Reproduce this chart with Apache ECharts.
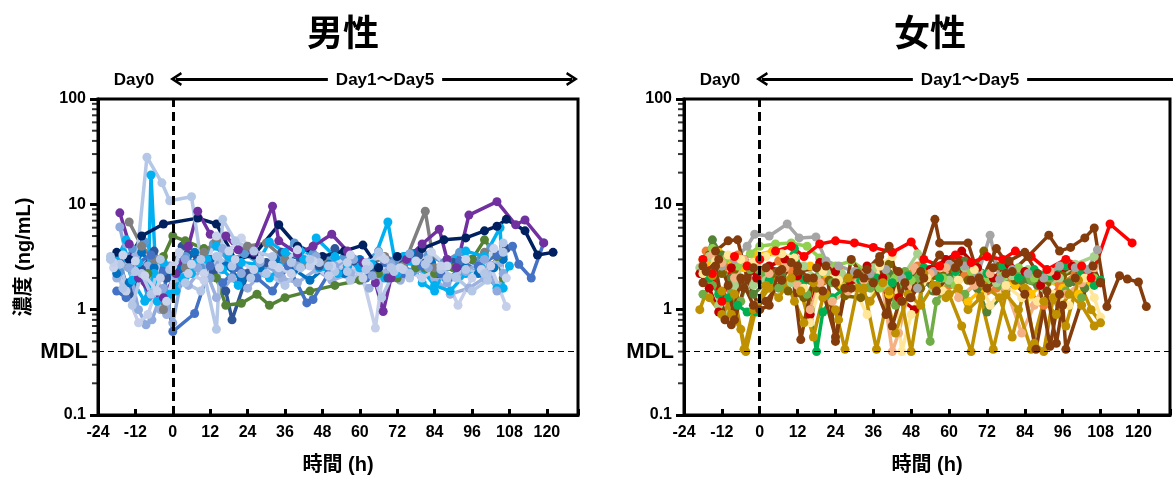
<!DOCTYPE html>
<html>
<head>
<meta charset="utf-8">
<script src="https://cdn.jsdelivr.net/npm/echarts@6/dist/echarts.min.js"></script>
<style>
  html, body { margin: 0; padding: 0; background: #fff; }
  #chart { width: 1173px; height: 480px; }
</style>
</head>
<body>
<div id="chart"></div>
<script>
// 男性 : [時間(h), 濃度(ng/mL)]
const m01 = [[-17,8.3],[-14,4.2],[-11,2.0],[-7,1.4],[-3,1.3],[1,2.2],[5,4.0],[8,8.6],[12,5.2],[17,5.0],[21,3.7],[26,3.5],[32,9.6],[34,4.5],[40,3.4],[45,4.0],[51,5.2],[56,3.6],[61,2.8],[65,1.8],[67.5,0.96],[70,2.0],[75,3.0],[80,4.2],[85.5,5.8],[88,3.0],[91,2.5],[95,7.9],[104,10.6],[110,6.4],[113,7.1],[119,4.3]];
const m02 = [[-18,3.5],[-14,3.0],[-10,5.0],[-3,6.5],[8,7.4],[14,6.5],[20,3.0],[26,3.3],[34,6.4],[40,4.0],[48,3.2],[55,3.6],[61,4.1],[66,2.5],[72,3.2],[80,3.8],[87,4.6],[94,4.8],[100,5.6],[104,6.2],[107,7.2],[113,5.6],[117,3.3],[122,3.5]];
const m03 = [[-14,6.8],[-10,4.0],[-6,3.0],[-3,1.0],[4,2.5],[10,3.5],[14,4.5],[18,3.5],[24,4.0],[30,4.3],[36,3.0],[42,2.7],[48,3.0],[56,2.6],[62,2.5],[68,3.2],[74,2.6],[81,8.6],[84,2.5],[88,3.0],[94,2.4],[100,3.5]];
const m04 = [[-14,2.5],[-8,2.2],[-3,3.2],[0,5.0],[4,4.5],[10,3.8],[14,2.0],[17,1.1],[22,1.15],[27,1.4],[31,1.1],[36,1.3],[44,1.5],[52,1.7],[60,1.9],[66,2.2],[72,2.0],[78,2.5],[84,2.2],[90,2.5],[96,3.0],[100,4.6],[104,3.2],[106,2.0]];
const m05 = [[-18,3.0],[-15,4.6],[-11,2.8],[-8,1.3],[-7,19],[-5,1.2],[-1,1.4],[3,2.0],[8,2.8],[14,4.0],[18,3.2],[22,2.8],[27,2.7],[31,4.4],[36,3.5],[42,3.0],[46,4.8],[52,3.2],[56,2.6],[60,2.5],[64,2.7],[69,6.8],[72,2.2],[76,2.9],[80,1.8],[84,1.5],[88,2.8],[94,3.6],[100,3.2],[105,6.0],[106,1.6]];
const m06 = [[-16,3.5],[-13,1.9],[-9,1.2],[-6,2.2],[-3,2.8],[1,1.5],[6,2.2],[11,3.0],[16,2.4],[21,1.7],[26,2.3],[31,2.0],[36,2.8],[41,3.6],[47,2.5],[53,2.2],[58,3.0],[63,2.4],[68,2.0],[74,3.2],[79,2.6],[84,1.7],[89,1.5],[94,2.2],[99,2.5],[104,1.6],[108,2.6]];
const m07 = [[-18,2.2],[-14,1.8],[-10,3.5],[-6,2.5],[-2,2.0],[2,2.4],[7,3.5],[12,3.0],[17,2.6],[22,1.9],[28,2.5],[33,3.0],[39,2.4],[44,1.9],[50,2.7],[55,2.2],[60,3.0],[66,2.5],[71,2.2],[77,3.4],[83,2.8],[88,1.9],[93,2.6],[98,2.2],[103,2.5],[106,3.0]];
const m08 = [[-18,1.5],[-15,1.3],[-11,2.8],[-7,3.3],[-3,2.3],[0,0.62],[7,0.92],[12,2.6],[16,1.8],[21,2.5],[27,2.0],[32,1.5],[37,2.6],[43,1.16],[45,1.25],[50,2.2],[56,2.6],[62,2.0],[68,2.8],[74,2.2],[80,2.6],[86,2.2],[92,2.9],[98,2.6],[104,3.3],[109,4.0],[111,2.7],[115,2.0],[119,4.3]];
const m09 = [[-17,2.8],[-14,1.4],[-10,2.4],[-6,3.6],[-2,2.0],[3,4.0],[8,3.0],[13,2.3],[17,1.5],[19,0.8],[24,2.2],[30,2.8],[35,3.5],[41,3.0],[47,2.6],[52,3.8],[58,2.9],[64,2.3],[69,2.0],[74,2.7],[79,3.3],[85,2.2],[90,2.8],[96,3.0],[102,2.6],[107,3.8]];
const m10 = [[-17,6.1],[-14,2.5],[-11,1.0],[-8.6,0.72],[-6.7,0.8],[-3,1.6],[0,0.75],[4,3.0],[8,2.5],[12,2.0],[16,3.8],[22,2.2],[28,2.8],[34,2.2],[40,2.6],[46,3.2],[52,2.6],[58,3.0],[64,2.1],[70,2.7],[76,3.4],[82,2.5],[88,1.8],[94,2.3],[100,3.0],[104,1.5],[106,2.2]];
const m11 = [[-20,3.0],[-16,1.6],[-12,2.3],[-8.3,28],[-3.5,16],[-1,10.8],[6,11.8],[9,3.0],[14,0.65],[16,7.2],[20,4.5],[26,3.6],[32,3.2],[38,2.8],[44,3.0],[50,2.6],[56,2.3],[62,2.4],[66,3.5],[70,2.5],[76,2.2],[82,3.0],[88,2.0],[94,2.4],[100,2.2],[106,3.5]];
const m12 = [[-20,3.2],[-17,2.7],[-13,1.1],[-10,2.2],[-7,1.4],[-4,3.0],[-1,2.4],[4,1.8],[9,1.5],[14,3.2],[19,2.6],[25,2.0],[30,2.2],[36,1.7],[41,2.5],[47,2.8],[52,2.3],[57,1.9],[63,2.6],[67,1.3],[71,2.3],[76,2.0],[81,2.7],[86,2.4],[91,2.0],[96,1.5],[101,1.9],[106,4.3]];
const m13 = [[-19,2.8],[-15,1.5],[-11,0.75],[-8,0.9],[-4,2.0],[0,2.6],[5,2.2],[10,1.9],[15,2.5],[20,3.0],[26,2.4],[32,2.7],[38,2.2],[44,2.6],[50,2.1],[56,2.8],[61,2.0],[65,0.67],[68,3.0],[74,2.4],[80,2.0],[86,2.6],[91.5,1.1],[96,2.0],[102,2.6],[107,1.07]];
const m14 = [[-19,2.5],[-16,3.3],[-12,2.9],[-9,2.1],[-5,1.5],[-2,1.2],[2,3.5],[6,2.7],[10,2.2],[14,5.0],[18,3.6],[22,4.8],[28,3.0],[34,2.5],[40,3.7],[45,2.9],[51,2.6],[57,3.3],[62,2.8],[67,3.2],[73,2.5],[78,2.9],[83,3.5],[88,2.6],[94,3.0],[99,2.4],[103,3.8],[107,2.0]];
const m15 = [[-18,2.0],[-15,2.6],[-12,3.2],[-8,2.6],[-4,1.0],[-2,0.9],[1,2.0],[5,1.7],[10,2.6],[14,1.3],[19,2.0],[24,1.6],[29,2.3],[35,2.0],[40,1.8],[46,2.4],[51,1.9],[57,2.2],[63,1.6],[68,2.2],[73,1.9],[78,2.4],[84,2.0],[89,1.4],[95,1.6],[100,2.0],[105,2.8]];
const m16 = [[-17,2.3],[-13,3.8],[-9,4.4],[-5,3.0],[-1,2.6],[4,3.2],[9,2.5],[13,4.2],[18,2.9],[23,3.4],[29,2.6],[34,3.1],[39,4.3],[45,3.4],[50,2.9],[55,3.2],[61,2.7],[66,3.6],[71,2.9],[77,2.3],[82,3.3],[87,2.8],[92,3.5],[97,2.9],[102,3.9],[106,3.2]];

// 女性
const f01 = [[-18,3.0],[-15,2.2],[-12,1.2],[-8,3.2],[-4,2.6],[0,3.0],[5,3.6],[10,4.0],[14,3.2],[19,4.2],[24,4.5],[30,4.3],[36,3.9],[42,3.5],[48,4.4],[52,3.0],[57,2.6],[62,3.3],[67,2.8],[72,3.2],[77,3.0],[81,3.6],[86,3.2],[91,2.4],[97,3.0],[102,2.6],[105,2.0],[111,6.5],[118,4.3]];
const f02 = [[-19,2.2],[-16,1.6],[-13,0.95],[-9,2.5],[-5,3.0],[-1,2.0],[3,2.6],[8,3.0],[12,2.1],[16,0.9],[19,2.8],[24,2.3],[29,1.7],[34,2.6],[39,2.0],[44,1.3],[49,1.0],[54,2.4],[59,3.0],[64,3.6],[69,2.5],[74,2.0],[79,2.7],[84,2.3],[89,1.7],[94,2.1],[99,2.6],[104,2.2],[108,1.8]];
const f03 = [[-18,2.6],[-14,3.6],[-10,4.5],[-7,4.6],[-4,2.0],[0,1.0],[3,1.1],[6,2.3],[12,2.3],[18,2.5],[24,1.8],[29,1.6],[34,2.4],[38,3.2],[41,4.0],[45,1.2],[48,1.3],[52,2.0],[57,3.3],[63,2.8],[70,1.8],[75,3.8],[80,2.3],[85,3.2],[91.6,5.1],[95,3.6],[98.5,3.9],[103,4.8],[106,5.96],[110,1.07],[114,2.1],[116.5,1.95],[120,1.83],[122.5,1.07]];
const f04 = [[-17,2.3],[-13,3.0],[-10,1.7],[-8,0.8],[-5,1.6],[-2,2.5],[2,2.5],[7,2.4],[12,2.6],[15,2.0],[20,1.5],[24,0.55],[27,1.6],[31,2.2],[36,1.8],[40,0.9],[44,2.3],[47.7,1.3],[55.5,7.2],[57,4.3],[66,4.3],[69.5,2.0],[74,2.5],[79,2.9],[84,3.5],[88,2.2],[92,0.45],[95,1.4],[100,2.0]];
const f05 = [[-18,1.8],[-14,2.6],[-11,0.8],[-9,0.72],[-6,2.0],[-2,1.1],[2,1.2],[7,1.9],[10,2.8],[13,0.52],[17,2.0],[21,2.6],[24,0.5],[29,3.0],[33,2.0],[38,2.8],[42,0.7],[46,1.8],[51,2.3],[56,1.5],[62,2.5],[67,1.9],[72,1.6],[78,2.2],[84,1.4],[87.5,0.42],[91,1.5],[94,0.48],[96,1.1],[97,0.42],[105.6,2.6],[108,1.8]];
const f06 = [[-19,1.0],[-15,2.1],[-12,1.5],[-9,0.9],[-6,0.65],[-4.4,0.4],[-1,1.1],[3,1.6],[7,2.4],[11,1.2],[14,0.75],[17,1.8],[21,1.4],[25,0.8],[28,2.0],[33,1.6],[37,0.42],[41,1.5],[45,1.2],[48,0.4],[52,2.2],[56,1.7],[60,1.4],[64,0.7],[67,0.4],[71,1.7],[76,1.3],[80,0.55],[84,1.6],[87,0.48],[90,0.4],[93,1.3],[97,0.7],[101,1.9],[105,1.0],[108,0.75]];
const f07 = [[-16,1.3],[-12,0.9],[-8,1.4],[-5,0.42],[-2,1.0],[2,1.7],[6,1.3],[10,2.0],[13,1.5],[17,0.55],[20,1.3],[24,1.0],[27,0.42],[31,1.6],[35,1.2],[39,1.8],[43,0.6],[47,1.4],[51,1.1],[55,1.7],[59,1.3],[63,1.6],[66,1.0],[70,1.3],[74,0.42],[78,1.4],[82,1.0],[86,0.42],[90,1.2],[94,0.9],[98,1.4],[102,1.1],[106,0.7]];
const f08 = [[-18,2.2],[-14,2.9],[-10,3.3],[-6,3.0],[-2,2.8],[2,3.2],[7,3.4],[11,3.1],[14,1.6],[16,0.75],[20,2.3],[25,1.9],[30,1.6],[34,0.9],[38,2.6],[42,3.2],[45,0.4],[48,0.9],[53,2.0],[58,1.5],[63,1.9],[68,2.4],[73,1.1],[78,1.7],[83,1.3],[88,1.2],[93,1.4],[98,1.1],[103,2.0],[106,1.3],[108,0.85]];
const f09 = [[-18,2.7],[-15,3.3],[-12,2.8],[-8,2.0],[-5,3.0],[-1,2.7],[3,2.2],[8,2.5],[12,1.7],[16,1.0],[19,1.8],[23,1.2],[28,1.5],[33,1.9],[38,2.6],[42,0.4],[44,0.6],[49,2.5],[54,2.2],[59,2.5],[63,1.3],[68,1.7],[73,2.2],[78,1.6],[83,0.6],[87,1.1],[92,2.3],[97,1.4],[102,1.8],[106,2.5]];
const f10 = [[-17,3.6],[-14,3.0],[-11,2.6],[-7,3.3],[-3,2.5],[1,2.3],[6,2.9],[10,2.4],[15,2.0],[20,1.9],[25,2.4],[30,1.8],[35,2.2],[40,1.6],[45,2.0],[50,2.6],[55,2.2],[60,1.7],[65,2.1],[70,1.3],[75,1.6],[80,2.0],[85,1.5],[90,1.1],[95,1.7],[100,2.2],[104,1.9]];
const f11 = [[-19,2.5],[-16,3.2],[-13,1.1],[-11,0.8],[-8,1.7],[-5,2.9],[-2,1.7],[2,1.9],[6,2.3],[10,1.8],[14,2.6],[18,2.0],[21,2.3],[26,2.2],[31,1.8],[36,2.5],[40,1.7],[45,2.0],[50,3.4],[55,1.6],[60,1.9],[65,2.5],[70,2.2],[75,1.8],[80,2.1],[85,2.4],[90,1.6],[95,2.0],[100,2.7],[106,3.2]];
const f12 = [[-18,1.4],[-15,1.7],[-12,2.6],[-9,1.5],[-6,1.2],[-3,2.4],[1,2.1],[6,1.6],[11,1.9],[15,1.4],[19,2.2],[23,1.8],[27,2.0],[31,2.3],[35,1.6],[40,2.0],[43,1.1],[46,2.3],[50,2.0],[54,0.5],[56,1.2],[60,1.8],[65,1.4],[70,2.0],[76,1.7],[81,2.2],[86,1.9],[92,2.0],[97,1.5],[102,1.3],[105,2.0]];
const f13 = [[-18,2.4],[-15,4.6],[-12,3.3],[-9,2.0],[-5,1.6],[-2,1.4],[2,1.8],[7,2.2],[12,2.5],[16,1.9],[21,2.4],[26,2.0],[31,2.3],[36,2.0],[41,2.2],[46,1.8],[51,2.1],[55,1.5],[60,2.0],[65,2.9],[69,1.6],[72,0.95],[78,1.5],[83,1.9],[88,1.7],[93,2.1],[98,1.8],[103,1.6]];
const f14 = [[-16,2.0],[-13,1.4],[-10,1.3],[-7,1.1],[-4,0.95],[-1,0.95],[3,1.9],[7,2.4],[11,3.8],[14,1.9],[16,1.0],[18,0.4],[20,0.95],[23,1.3],[27,1.6],[32,1.9],[37,2.0],[42,1.8],[47,2.1],[52,2.5],[57,2.0],[62,2.3],[67,2.7],[72,2.2],[77,2.6],[82,2.0],[87,2.4],[92,2.1],[97,2.6],[102,2.3],[106,1.7],[108,1.9]];
const f15 = [[-18,2.4],[-15,2.2],[-12,2.6],[-8,3.0],[-4,4.0],[-1.6,5.2],[3,5.0],[8.7,6.5],[12.5,4.8],[17.8,4.9],[21,2.9],[25,2.6],[30,2.3],[35,2.2],[40,2.4],[45,2.0],[50,1.6],[55,2.3],[60,2.7],[65,2.6],[69,2.1],[73,5.1],[76,1.95],[80,2.4],[85,2.2],[90,2.0],[95,2.6],[100,2.5],[104,2.4],[107,3.7]];
const f16 = [[-16,3.3],[-12,2.2],[-8,2.4],[-4,2.6],[0,1.9],[4,2.2],[9,1.5],[14,1.3],[18,1.6],[22,1.9],[27,1.35],[32,1.3],[36,2.0],[41,2.7],[46,2.2],[51,1.6],[56,2.1],[61,2.4],[66,1.9],[71,3.6],[76,2.6],[81,1.9],[86,2.3],[91,1.8],[96,2.1],[101,2.4]];
const f17 = [[-17,2.8],[-13,3.5],[-9,2.9],[-5,2.5],[-1,3.3],[4,3.6],[8,2.9],[12,2.0],[16,2.6],[21,2.2],[26,1.7],[31,2.3],[36,1.9],[41,1.4],[46,1.9],[51,2.2],[56,1.5],[61,1.8],[66,1.2],[71,1.6],[76,2.0],[81,1.7],[86,1.4],[91,1.9],[96,1.6],[101,1.4],[105,1.8]];
const f18 = [[-18,3.0],[-15,3.8],[-11,3.0],[-7,2.6],[-3,3.4],[0,4.0],[5,4.2],[10,4.3],[15,4.0],[19,3.1],[24,2.6],[29,2.9],[34,2.3],[38,1.6],[43,2.0],[48,1.9],[53,2.4],[58,2.0],[62,1.7],[67,2.3],[72,1.9],[77,2.1],[82,2.5],[87,2.0],[92,2.2],[97,2.7],[102,2.3],[106,2.0]];

const maleData = [m15, m16, m07, m06, m09, m04, m03, m08, m05, m02, m01, m10, m12, m14, m13, m11];
const maleColors = ["#9DB1DE", "#5B9BD5", "#0070C0", "#00B0F0", "#2F5597", "#548235", "#7F7F7F", "#4472C4", "#00B0F0", "#002060", "#7030A0", "#8FAADC", "#B4C7E7", "#C9D3EC", "#C5CFEA", "#B4C7E7"];
const femaleData = [f10, f17, f16, f13, f12, f11, f18, f14, f02, f15, f09, f08, f07, f06, f01, f05, f04, f03];
const femaleColors = ["#ED7D31", "#FFC000", "#7F6000", "#548235", "#70AD47", "#A9D18E", "#92D050", "#00B050", "#C00000", "#A5A5A5", "#F4B183", "#FFE699", "#BF9000", "#BF9000", "#FF0000", "#843C0C", "#843C0C", "#843C0C"];

const MDL = 0.4;
const xTicks = 12;

const FONT = "'Liberation Sans', 'Noto Sans CJK JP', sans-serif";
// log minor ticks: 2..9 in each decade, pinned to the left axis (x = -24)
const minorTicks = [];
[0.1, 1, 10].forEach(d => {
  for (let k = 2; k <= 9; k++) minorTicks.push([-24, +(k * d).toPrecision(2)]);
});

const chart = echarts.init(document.getElementById("chart"));

const grids = [
  { left: 98, top: 99, width: 480, height: 321 },
  { left: 684, top: 99, width: 494, height: 321 }
];

function xAxisFor(i) {
  return {
    gridIndex: i,
    type: "value",
    min: -24,
    max: 130,
    interval: xTicks,
    name: "時間 (h)",
    nameLocation: "middle",
    nameGap: 40,
    nameTextStyle: { color: "#000", fontSize: 20, fontWeight: "bold", fontFamily: FONT },
    axisLine: { onZero: false, lineStyle: { color: "#000", width: 3 } },
    axisTick: { inside: true, length: 6, lineStyle: { color: "#000", width: 3 } },
    axisLabel: {
      color: "#000", fontSize: 16, fontWeight: "bold", fontFamily: FONT, margin: 10,
      formatter: v => (v % 12 === 0 ? String(v) : "")
    },
    splitLine: { show: false }
  };
}

function yAxisFor(i, withName) {
  return {
    gridIndex: i,
    type: "log",
    logBase: 10,
    min: 0.1,
    max: 100,
    name: withName ? "濃度 (ng/mL)" : "",
    nameLocation: "middle",
    nameRotate: 90,
    nameGap: 64,
    nameTextStyle: { color: "#000", fontSize: 20, fontWeight: "bold", fontFamily: FONT },
    axisLine: { onZero: false, lineStyle: { color: "#000", width: 3 } },
    axisTick: { length: 8, lineStyle: { color: "#000", width: 3 } },
    axisLabel: { color: "#000", fontSize: 16, fontWeight: "bold", fontFamily: FONT, margin: 12 },
    splitLine: { show: false }
  };
}

const chevron = "path://M0,9 L6,0 L12,9 L10,10 L6,4 L2,10 Z";

function guideSeries(i) {
  const arrowX = i === 0 ? [176, 572] : [762, 1182];
  return {
    type: "scatter",
    xAxisIndex: i,
    yAxisIndex: i,
    data: minorTicks,
    symbol: "rect",
    symbolSize: [5, 2],
    symbolOffset: [-3.5, 0],
    itemStyle: { color: "#000" },
    clip: false,
    silent: true,
    z: 5,
    markLine: {
      silent: true,
      animation: false,
      symbol: "none",
      data: [
        {
          xAxis: 0,
          lineStyle: { color: "#000", width: 3, type: [9, 5] },
          label: { show: false }
        },
        {
          yAxis: MDL,
          lineStyle: { color: "#000", width: 1, type: [6, 4] },
          label: {
            show: true, position: "start", distance: 10, formatter: "MDL",
            color: "#000", fontSize: 22, fontWeight: "bold", fontFamily: FONT
          }
        },
        [
          { x: arrowX[0], y: 79, symbol: chevron },
          {
            x: arrowX[1], y: 79, symbol: chevron,
            lineStyle: { color: "#000", width: 3, type: "solid" },
            label: { show: false }
          }
        ]
      ],
      symbolSize: [14, 12]
    }
  };
}

const series = [guideSeries(0), guideSeries(1)];
maleData.forEach((d, k) => {
  series.push({
    type: "line", xAxisIndex: 0, yAxisIndex: 0, data: d,
    symbol: "circle", symbolSize: 9, color: maleColors[k],
    lineStyle: { width: 3.5 }, animation: false
  });
});
femaleData.forEach((d, k) => {
  series.push({
    type: "line", xAxisIndex: 1, yAxisIndex: 1, data: d,
    symbol: "circle", symbolSize: 9, color: femaleColors[k],
    lineStyle: { width: 3.5 }, animation: false
  });
});

function label(x, y, text, size) {
  return {
    type: "text", x: x, y: y, z: 100,
    style: {
      text: text, font: "bold " + size + "px " + FONT, fill: "#000",
      textAlign: "center", textVerticalAlign: "middle",
      backgroundColor: "#fff", padding: [2, 8]
    }
  };
}

chart.setOption({
  animation: false,
  grid: grids.map(g => Object.assign({ show: true, borderColor: "#000", borderWidth: 3, backgroundColor: "transparent" }, g)),
  xAxis: [xAxisFor(0), xAxisFor(1)],
  yAxis: [yAxisFor(0, true), yAxisFor(1, false)],
  graphic: [
    { type: "text", x: 343, y: 32, style: { text: "男性", font: "bold 36px 'Noto Sans CJK JP'", textAlign: "center", textVerticalAlign: "middle", fill: "#000" } },
    { type: "text", x: 930, y: 32, style: { text: "女性", font: "bold 36px 'Noto Sans CJK JP'", textAlign: "center", textVerticalAlign: "middle", fill: "#000" } },
    label(134, 80, "Day0", 17),
    label(720, 80, "Day0", 17),
    label(385, 80, "Day1～Day5", 17),
    label(970, 80, "Day1～Day5", 17)
  ],
  series: series
});
</script>
</body>
</html>
